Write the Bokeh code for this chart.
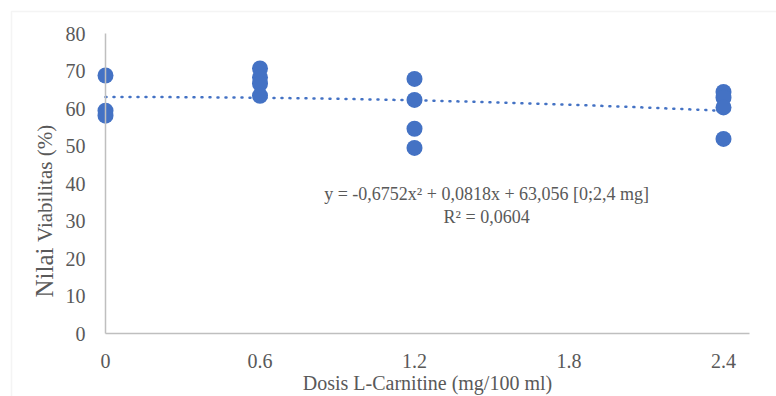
import numpy as np
from bokeh.plotting import figure
from bokeh.models import Range1d, Label, BoxAnnotation, FixedTicker, ColumnDataSource
from bokeh.embed import file_html
from bokeh.resources import INLINE

# Data
dose = [0, 0, 0,
        0.6, 0.6, 0.6, 0.6,
        1.2, 1.2, 1.2, 1.2,
        2.4, 2.4, 2.4, 2.4]
viability = [68.8, 59.4, 58.1,
             70.7, 68.3, 66.6, 63.4,
             67.9, 62.3, 54.6, 49.5,
             64.4, 62.9, 60.3, 51.9]
x_ticks = [0, 0.6, 1.2, 1.8, 2.4]
y_ticks = [0, 10, 20, 30, 40, 50, 60, 70, 80]
trend_coef = [-0.6752, 0.0818, 63.056]   # a, b, c
trend_range = [0, 2.4]
eq_line1 = "y = -0,6752x² + 0,0818x + 63,056 [0;2,4 mg]"
eq_line2 = "R² = 0,0604"
x_label = "Dosis L-Carnitine (mg/100 ml)"
y_label_a = "Nilai"
y_label_b = "Viabilitas (%)"

FONT = "Liberation Serif"
GRAY = "#595959"
BLUE = "#4472C4"

W, H = 776, 396
X0, XS = 105.0, 257.5      # pixel of x=0, pixels per unit
Y0, YS = 333.0, 3.75       # pixel of y=0, pixels per unit

p = figure(width=W, height=H, output_backend="svg", toolbar_location=None,
           x_range=Range1d(-X0 / XS, (W - X0) / XS),
           y_range=Range1d((Y0 - H) / YS, Y0 / YS),
           min_border=0)
p.outline_line_color = None
p.xgrid.grid_line_color = None
p.ygrid.grid_line_color = None
p.background_fill_color = "white"
p.border_fill_color = "white"

for ax in (p.xaxis[0], p.yaxis[0]):
    ax.fixed_location = 0
    ax.major_tick_line_color = None
    ax.minor_tick_line_color = None
    ax.axis_line_color = "#bfbfbf"
    ax.axis_line_width = 1.5
    ax.major_label_text_font = FONT
    ax.major_label_text_font_size = "20px"
    ax.major_label_text_color = GRAY
    ax.major_label_text_font_style = "normal"

p.xaxis.bounds = (0, 2.5)
p.yaxis.bounds = (0, 80)
p.xaxis.ticker = FixedTicker(ticks=x_ticks)
p.yaxis.ticker = FixedTicker(ticks=y_ticks)
p.xaxis.major_label_overrides = {t: str(t) for t in x_ticks}
p.xaxis.major_label_standoff = 14
p.yaxis.major_label_standoff = 14

p.xaxis.axis_label = x_label
p.xaxis.axis_label_text_font = FONT
p.xaxis.axis_label_text_font_size = "20px"
p.xaxis.axis_label_text_font_style = "normal"
p.xaxis.axis_label_text_color = GRAY
p.xaxis.axis_label_standoff = 1

# outer chart border (left and top visible)
p.add_layout(BoxAnnotation(left=(11 - X0) / XS, right=4, top=(Y0 - 11) / YS, bottom=-40,
                           fill_color=None, fill_alpha=0, line_color="#d9d9d9", line_width=1.5))

# trend line from displayed coefficients
a, b, c = trend_coef
tx = np.linspace(trend_range[0], trend_range[1], 60)
ty = a * tx ** 2 + b * tx + c
p.line(tx, ty, line_color=BLUE, line_width=2.5, line_dash="1 7", line_cap="round")

src = ColumnDataSource(dict(x=dose, y=viability))
p.scatter("x", "y", source=src, size=16, fill_color=BLUE, line_color=BLUE, line_width=0)

# equation labels
p.add_layout(Label(x=1.48, y=37.3, text=eq_line1, text_font=FONT, text_font_size="18px",
                   text_color=GRAY, text_align="center", text_baseline="middle"))
p.add_layout(Label(x=1.48, y=31.2, text=eq_line2, text_font=FONT, text_font_size="18px",
                   text_color=GRAY, text_align="center", text_baseline="middle"))

# y axis label: two parts with different sizes
p.add_layout(Label(x=(44 - X0) / XS, y=9.6, text=y_label_a, angle=np.pi / 2, text_font=FONT,
                   text_font_size="25px", text_color=GRAY, text_align="left", text_baseline="middle"))
p.add_layout(Label(x=(44 - X0) / XS, y=24.4, text=y_label_b, angle=np.pi / 2, text_font=FONT,
                   text_font_size="21px", text_color=GRAY, text_align="left", text_baseline="middle"))

open("out.html", "w").write(file_html(p, INLINE))
